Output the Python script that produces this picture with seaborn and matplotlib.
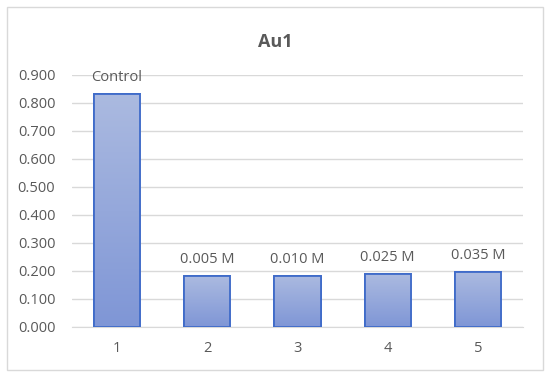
import numpy as np
import pandas as pd
import matplotlib
matplotlib.use("Agg")
import matplotlib.pyplot as plt
import seaborn as sns
from matplotlib.patches import Rectangle

categories = ["1", "2", "3", "4", "5"]
values = [0.832, 0.182, 0.183, 0.188, 0.195]
bar_labels = ["Control", "0.005 M", "0.010 M", "0.025 M", "0.035 M"]
yticks = [0.0, 0.1, 0.2, 0.3, 0.4, 0.5, 0.6, 0.7, 0.8, 0.9]

sns.set_style("white")
plt.rcParams["font.family"] = ["Open Sans", "DejaVu Sans"]

df = pd.DataFrame({"x": categories, "y": values})

fig = plt.figure(figsize=(5.5, 3.77), dpi=100)
ax = fig.add_axes([72 / 550, 1 - 327 / 377, 451 / 550, 252 / 377])

sns.barplot(data=df, x="x", y="y", ax=ax, width=0.51, color="#94a8da",
            edgecolor="#3f6bc9", linewidth=1.3, zorder=3)

# vertical gradient in each bar
grad = np.linspace(0, 1, 256).reshape(-1, 1)
cmap = matplotlib.colors.LinearSegmentedColormap.from_list("g", ["#7f96d6", "#abbae0"])
for p in ax.patches:
    x0, y0 = p.get_x(), p.get_y()
    w, h = p.get_width(), p.get_height()
    im = ax.imshow(grad, cmap=cmap, origin="lower", aspect="auto",
                   extent=[x0, x0 + w, y0, y0 + h], zorder=3.5)
    im.set_clip_path(p)
    edge = Rectangle((x0, y0), w, h, fill=False, edgecolor="#3f6bc9",
                     linewidth=1.3, zorder=4)
    ax.add_patch(edge)

for i, (v, lab) in enumerate(zip(values, bar_labels)):
    ax.annotate(lab, (i, v), xytext=(0, 6.5), textcoords="offset points",
                ha="center", va="bottom", fontsize=10.5, color="#595959")

ax.set_xlim(-0.5, 4.5)
ax.set_ylim(0, 0.9)
ax.set_yticks(yticks)
ax.set_yticklabels([f"{t:.3f}" for t in yticks])
ax.yaxis.grid(True, color="#d9d9d9", linewidth=1, zorder=0)
ax.set_axisbelow(True)
for s in ["top", "right", "left"]:
    ax.spines[s].set_visible(False)
ax.spines["bottom"].set_color("#d9d9d9")
ax.tick_params(axis="both", colors="#595959", labelsize=10.5, length=0)
ax.tick_params(axis="y", pad=12)
ax.tick_params(axis="x", pad=10)
ax.set_xlabel("")
ax.set_ylabel("")

fig.text(0.5, 1 - 42 / 377, "Au1", ha="center", va="center", fontsize=13,
         fontweight="bold", color="#595959")

fig.patches.append(Rectangle((7 / 550, 7 / 377), 536 / 550, 363 / 377,
                             transform=fig.transFigure, fill=False,
                             edgecolor="#d9d9d9", linewidth=1))

fig.savefig("out.png", dpi=100)
